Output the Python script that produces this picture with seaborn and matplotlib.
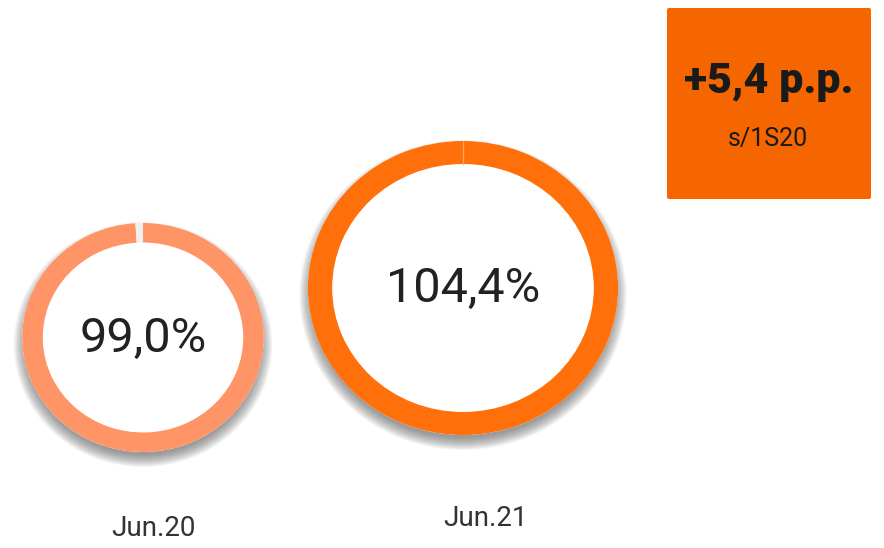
import matplotlib
matplotlib.use("Agg")
import matplotlib.pyplot as plt
from matplotlib.patches import FancyBboxPatch
import seaborn as sns

# data
periods = ["Jun.20", "Jun.21"]
ratios = [99.0, 104.4]
ratio_labels = ["99,0%", "104,4%"]
delta_label = "+5,4 p.p."
delta_sub = "s/1S20"

# styles
ring_colors = ["#FF9466", "#FF6F0A"]
gap_color = "#EFEFEF"
seam_color = "#FFA463"
box_color = "#F56600"
text_dark = "#222222"

W, H = 884, 548
SX = 1.055  # rings are drawn slightly wider than tall

sns.set_theme(style="white")
plt.rcParams["font.family"] = ["Roboto", "DejaVu Sans"]

fig = plt.figure(figsize=(W / 100, H / 100), dpi=100)
ax = fig.add_axes([0, 0, 1, 1])


def to_data(px, py):
    return px / SX, H - py


# layout in pixels: ring centre, outer radius (vertical), ring width
centres = [(143, 337.5), (463, 288)]
radii = [114.5, 147]
widths = [19.5, 23]
label_pos = [(154, 529), (486, 519)]

for i, v in enumerate(ratios):
    cx, cy = to_data(*centres[i])
    r, w = radii[i], widths[i]
    # soft drop shadow below the ring
    for k in range(13):
        ax.pie([1], radius=r - 4 + k, center=(cx, cy - 7), colors=["#505050"],
               wedgeprops=dict(alpha=0.06, linewidth=0))
    ax.pie([1], radius=r, center=(cx, cy), colors=["white"],
           wedgeprops=dict(linewidth=0))
    filled = min(v, 100)
    ax.pie([filled, 100 - filled], radius=r, center=(cx, cy),
           colors=[ring_colors[i], gap_color], startangle=90, counterclock=False,
           wedgeprops=dict(width=w, linewidth=0))
    if v >= 100:
        ax.plot([cx, cx], [cy + r - w, cy + r], color=seam_color, lw=1)
    ax.text(cx, cy - 1, ratio_labels[i], ha="center", va="center",
            fontsize=35, fontweight="normal", color=text_dark)
    lx, ly = to_data(*label_pos[i])
    ax.text(lx, ly, periods[i], ha="center", va="center",
            fontsize=20, color="#333333")

# highlight box
bx0, by1 = to_data(667, 199)
bx1, by0 = to_data(871, 8)
ax.add_patch(FancyBboxPatch((bx0, by1), bx1 - bx0, by0 - by1,
                            boxstyle="round,pad=0,rounding_size=2",
                            facecolor=box_color, edgecolor="none"))
tx, ty = to_data(769, 82)
ax.text(tx, ty, delta_label, ha="center", va="center", fontsize=31,
        fontweight="black", color="#1a1a1a")
tx, ty = to_data(768, 139)
ax.text(tx, ty, delta_sub, ha="center", va="center", fontsize=18,
        color="#1a1a1a")

ax.set_aspect("auto")
ax.set_xlim(0, W / SX)
ax.set_ylim(0, H)
ax.axis("off")

fig.savefig("out.png", dpi=100, facecolor="white")
